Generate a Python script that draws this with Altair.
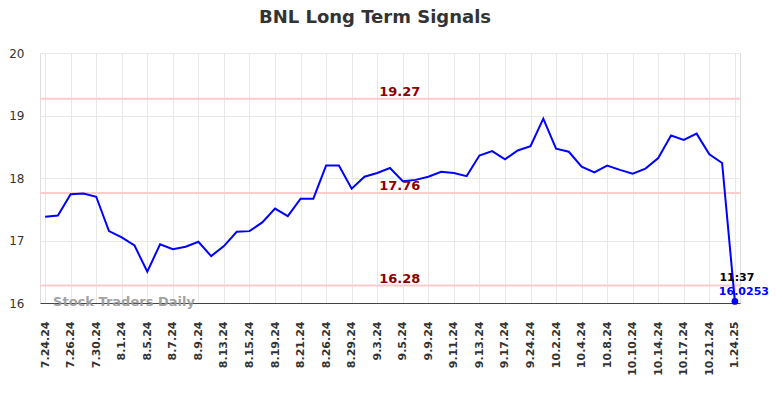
import altair as alt
import pandas as pd

dates = ["7.24.24", "7.25.24", "7.26.24", "7.29.24", "7.30.24", "7.31.24", "8.1.24", "8.2.24",
         "8.5.24", "8.6.24", "8.7.24", "8.8.24", "8.9.24", "8.12.24", "8.13.24", "8.14.24",
         "8.15.24", "8.16.24", "8.19.24", "8.20.24", "8.21.24", "8.22.24", "8.26.24", "8.27.24",
         "8.29.24", "8.30.24", "9.3.24", "9.4.24", "9.5.24", "9.6.24", "9.9.24", "9.10.24",
         "9.11.24", "9.12.24", "9.13.24", "9.16.24", "9.17.24", "9.18.24", "9.24.24", "9.25.24",
         "10.2.24", "10.3.24", "10.4.24", "10.7.24", "10.8.24", "10.9.24", "10.10.24", "10.11.24",
         "10.14.24", "10.15.24", "10.17.24", "10.18.24", "10.21.24", "10.22.24", "1.24.25"]
values = [17.38, 17.40, 17.74, 17.75, 17.70, 17.15, 17.05, 16.92,
          16.50, 16.94, 16.86, 16.90, 16.98, 16.75, 16.91, 17.14,
          17.15, 17.29, 17.51, 17.39, 17.67, 17.67, 18.20, 18.20,
          17.83, 18.02, 18.08, 18.16, 17.95, 17.97, 18.02, 18.10,
          18.08, 18.03, 18.36, 18.43, 18.30, 18.44, 18.51, 18.95,
          18.47, 18.42, 18.18, 18.09, 18.20, 18.13, 18.07, 18.15,
          18.32, 18.68, 18.61, 18.71, 18.38, 18.24, 16.0253]
label_dates = dates[::2]
levels = [19.27, 17.76, 16.28]
level_texts = ["19.27", "17.76", "16.28"]
last_time = "11:37"
last_text = "16.0253"
title_text = "BNL Long Term Signals"
watermark = "Stock Traders Daily"

FONT = "DejaVu Sans"

df = pd.DataFrame({"date": dates, "value": values})
lv = pd.DataFrame({"level": levels, "text": level_texts, "date": [dates[28]] * 3})
last = pd.DataFrame({"date": [dates[-1]], "value": [values[-1]],
                     "t1": [last_time], "t2": [last_text]})
wm = pd.DataFrame({"date": [dates[0]], "value": [16.0], "t": [watermark]})

xscale = alt.Scale(type="point", padding=0.4, domain=dates)
yscale = alt.Scale(domain=[16, 20])

x_axis = alt.Axis(values=label_dates, labelAngle=-90, labelFont=FONT, labelFontSize=11,
                  labelColor="#333", labelFontWeight="bold", title=None, ticks=False,
                  labelPadding=18, grid=True, gridColor="#e8e8e8", domainColor="#444",
                  domainWidth=1)
y_axis = alt.Axis(values=[16, 17, 18, 19, 20], format="d", labelFont=FONT, labelFontSize=12,
                  labelColor="#333", title=None, ticks=False, labelPadding=16,
                  grid=True, gridColor="#e8e8e8", domain=False)

X = alt.X("date:O", sort=dates, scale=xscale, axis=x_axis)
Y = alt.Y("value:Q", scale=yscale, axis=y_axis)

line = alt.Chart(df).mark_line(color="#0000ff", strokeWidth=2).encode(x=X, y=Y)

rules = alt.Chart(lv).mark_rule(color="#ffcccc", strokeWidth=2).encode(
    y=alt.Y("level:Q", scale=yscale))
rule_text = alt.Chart(lv).mark_text(color="#8b0000", font=FONT, fontSize=13,
                                    fontWeight="bold", dy=-7, dx=-3).encode(
    x=alt.X("date:O", sort=dates, scale=xscale),
    y=alt.Y("level:Q", scale=yscale), text="text:N")

wm_text = alt.Chart(wm).mark_text(color="#999999", font=FONT, fontSize=13, fontWeight="bold",
                                  align="left", dx=8, dy=-1, opacity=0.9).encode(
    x=alt.X("date:O", sort=dates, scale=xscale),
    y=alt.Y("value:Q", scale=yscale), text="t:N")

dot = alt.Chart(last).mark_point(filled=True, color="#0000ff", size=45, opacity=1).encode(
    x=alt.X("date:O", sort=dates, scale=xscale), y=alt.Y("value:Q", scale=yscale))
t1 = alt.Chart(last).mark_text(color="#000000", font=FONT, fontSize=11, fontWeight="bold",
                               dy=-23, dx=2).encode(
    x=alt.X("date:O", sort=dates, scale=xscale), y=alt.Y("value:Q", scale=yscale), text="t1:N")
t2 = alt.Chart(last).mark_text(color="#0000ff", font=FONT, fontSize=11, fontWeight="bold",
                               dy=-9, dx=9).encode(
    x=alt.X("date:O", sort=dates, scale=xscale), y=alt.Y("value:Q", scale=yscale), text="t2:N")

chart = alt.layer(rules, line, rule_text, wm_text, dot, t1, t2).properties(
    width=700, height=250,
    title=alt.TitleParams(title_text, font=FONT, fontSize=18, fontWeight="bold",
                          color="#333", anchor="middle", offset=20, dx=-15),
    autosize=alt.AutoSizeParams(type="none"),
    padding={"left": 40, "top": 53, "right": 44, "bottom": 95},
).configure_view(stroke=None).configure(background="white")

chart.save("out.html", embed_options={"renderer": "svg", "actions": False})
